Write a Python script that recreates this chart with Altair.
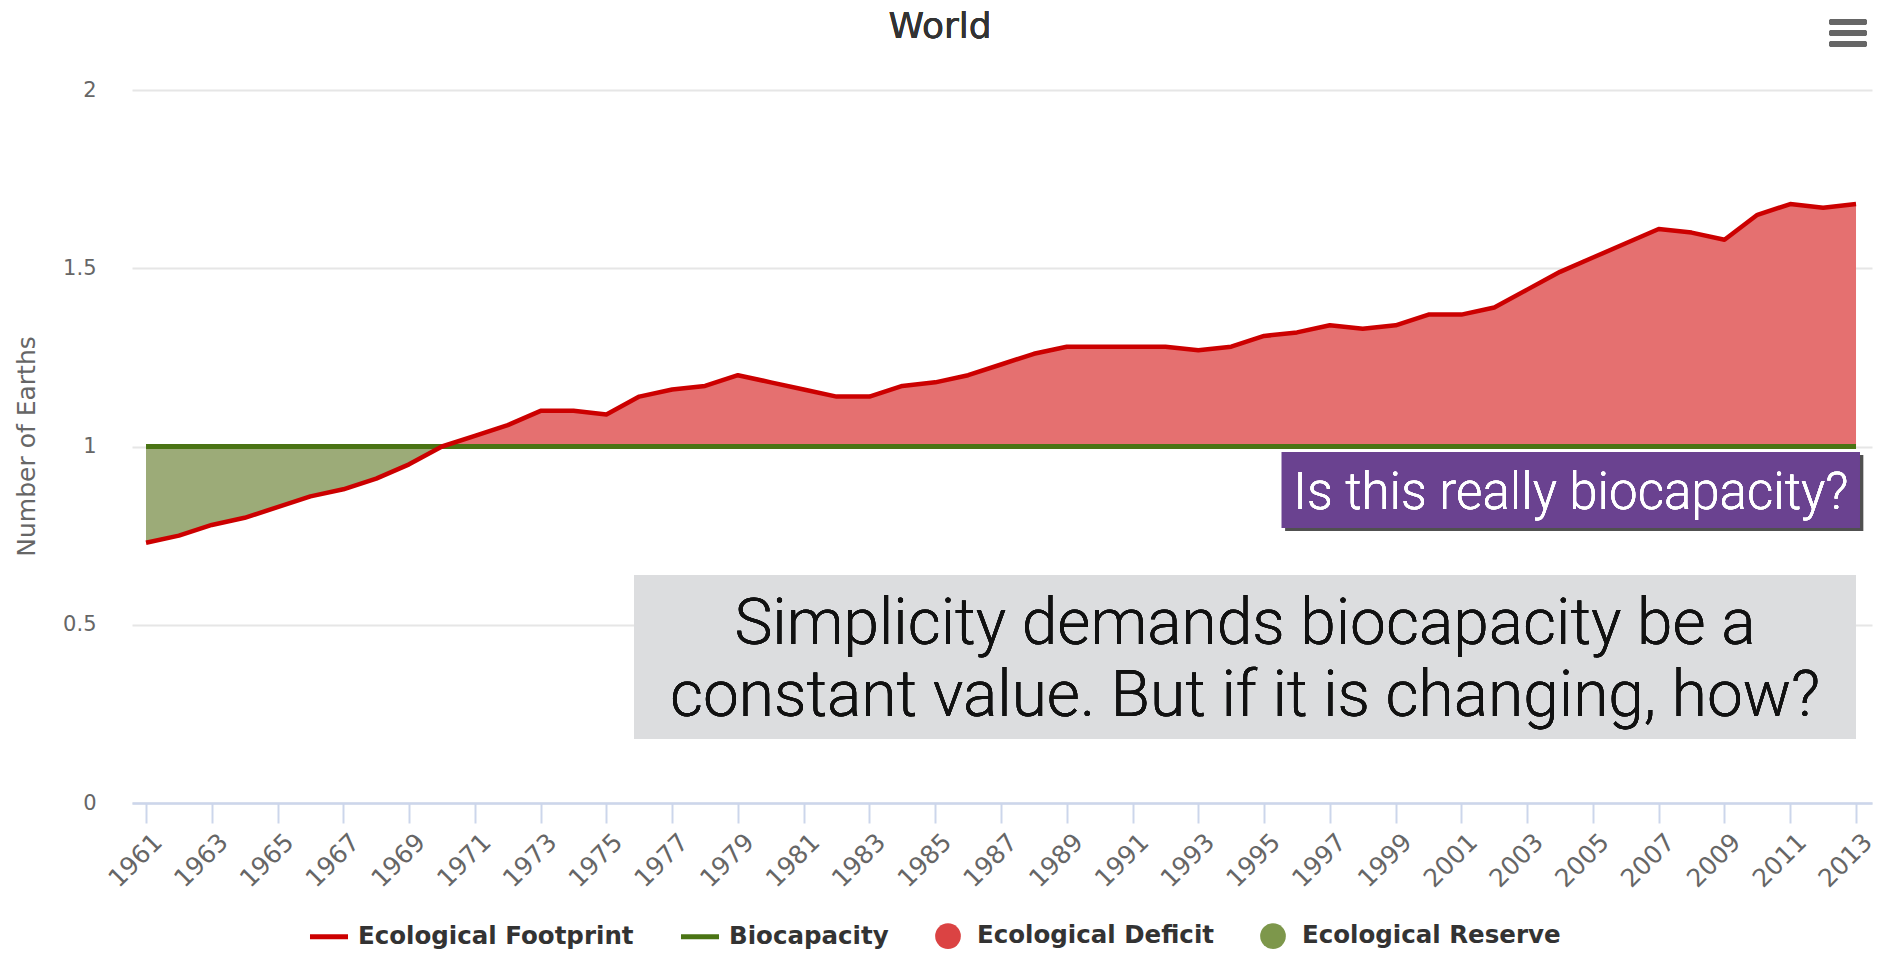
import altair as alt
import pandas as pd

years = list(range(1961, 2014))
footprint = [0.73, 0.75, 0.78, 0.80, 0.83, 0.86, 0.88, 0.91, 0.95, 1.00,
             1.03, 1.06, 1.10, 1.10, 1.09, 1.14, 1.16, 1.17, 1.20, 1.18,
             1.16, 1.14, 1.14, 1.17, 1.18, 1.20, 1.23, 1.26, 1.28, 1.28,
             1.28, 1.28, 1.27, 1.28, 1.31, 1.32, 1.34, 1.33, 1.34, 1.37,
             1.37, 1.39, 1.44, 1.49, 1.53, 1.57, 1.61, 1.60, 1.58, 1.65,
             1.68, 1.67, 1.68]
biocapacity = [1.0] * len(years)
tick_years = list(range(1961, 2014, 2))
y_ticks = [0, 0.5, 1, 1.5, 2]
series_names = ["Ecological Footprint", "Biocapacity", "Ecological Deficit", "Ecological Reserve"]
series_colors = ["#CC0000", "#4A7414", "#DB4343", "#7D974B"]

df = pd.DataFrame({"year": years, "fp": footprint, "bio": biocapacity})
df["top"] = df[["fp", "bio"]].max(axis=1)
df["bottom"] = df[["fp", "bio"]].min(axis=1)

xs = alt.Scale(domain=[1960.574, 2013.486], nice=False, zero=False)
ys = alt.Scale(domain=[0, 2], nice=False, zero=True)

x_axis = alt.Axis(values=tick_years, format="d", labelAngle=-45, title=None,
                  grid=False, domainColor="#ccd6eb", domainWidth=2.5,
                  tickColor="#ccd6eb", tickWidth=2, tickSize=20,
                  labelFont="DejaVu Sans", labelFontSize=25, labelColor="#666666",
                  labelPadding=6, labelOffset=3, labelOverlap=False, labelFlush=False)
y_axis = alt.Axis(values=y_ticks, format="~g", title="Number of Earths", domain=False, ticks=False,
                  gridColor="#e6e6e6", gridWidth=2,
                  labelFont="DejaVu Sans", labelFontSize=21, labelColor="#666666",
                  labelPadding=36,
                  titleFont="DejaVu Sans", titleFontSize=25, titleColor="#666666",
                  titleFontWeight="normal", titleX=-106, titleY=356, titleAngle=-90,
                  titleAlign="center", titleBaseline="middle")

base = alt.Chart(df)

deficit = base.mark_area(color="#E57070", opacity=1).encode(
    x=alt.X("year:Q", scale=xs, axis=x_axis),
    y=alt.Y("top:Q", scale=ys, axis=y_axis),
    y2="bio:Q",
)
reserve = base.mark_area(color="#9CAB78", opacity=1).encode(
    x="year:Q", y="bottom:Q", y2="bio:Q"
)
bio_line = base.mark_line(color="#4A7414", strokeWidth=4.8).encode(x="year:Q", y="bio:Q")
fp_line = base.mark_line(color="#CC0000", strokeWidth=4.5, strokeJoin="round").encode(x="year:Q", y="fp:Q")

legend_df = pd.DataFrame({"series": series_names})
line_path = "M-1.48,-0.19H1.48V0.19H-1.48Z"
legend_layer = alt.Chart(legend_df).mark_point(filled=True, clip=True, opacity=1).encode(
    x=alt.XDatum(1900),
    y=alt.YDatum(-5),
    color=alt.Color("series:N", scale=alt.Scale(domain=series_names, range=series_colors),
                    legend=alt.Legend(orient="none", legendX=184, legendY=833,
                                      direction="horizontal", title=None,
                                      labelFont="DejaVu Sans", labelFontWeight="bold",
                                      labelFontSize=24.5, labelColor="#333333", labelLimit=0,
                                      symbolSize=660, symbolOpacity=1, symbolStrokeWidth=0,
                                      columnPadding=46, labelOffset=16, padding=0)),
    shape=alt.Shape("series:N", scale=alt.Scale(domain=series_names,
                                                range=[line_path, line_path, "circle", "circle"])),
)

# annotations
shadow = alt.Chart(legend_df).mark_rect(color="#000000", opacity=0.25).encode(
    x=alt.XDatum(1995.64), x2=alt.X2Datum(2013.22),
    y=alt.YDatum(0.9762), y2=alt.Y2Datum(0.7630),
)
purple_box = alt.Chart(legend_df).mark_rect(color="#6A4290").encode(
    x=alt.XDatum(1995.54), x2=alt.X2Datum(2013.12),
    y=alt.YDatum(0.9846), y2=alt.Y2Datum(0.7714),
)
purple_text = alt.Chart(legend_df).mark_text(
    text="Is this really biocapacity?", font="Roboto", fontWeight=300, fontSize=51,
    color="white", align="center", baseline="alphabetic"
).encode(x=alt.XDatum(2004.33), y=alt.YDatum(0.8247))

gray_box = alt.Chart(legend_df).mark_rect(color="#DCDDDF").encode(
    x=alt.XDatum(1975.84), x2=alt.X2Datum(2013.0),
    y=alt.YDatum(0.6396), y2=alt.Y2Datum(0.1795),
)
gray_text = alt.Chart(legend_df).mark_text(
    text=["Simplicity demands biocapacity be a", "constant value. But if it is changing, how?"],
    font="Roboto", fontWeight=300, fontSize=64, lineHeight=72,
    color="#111111", align="center", baseline="alphabetic"
).encode(x=alt.XDatum(1994.42), y=alt.YDatum(0.446))

title = alt.Chart(legend_df).mark_text(
    text="World", font="DejaVu Sans", fontWeight="normal", fontSize=36, color="#333333",
    align="center", baseline="alphabetic"
).encode(x=alt.value(808), y=alt.value(-52))

menu_layers = [
    alt.Chart(legend_df).mark_rule(color="#666666", strokeWidth=6, strokeCap="round").encode(
        x=alt.value(1700), x2=alt.value(1732), y=alt.value(yv))
    for yv in (-68, -57, -46)
]

chart = alt.layer(
    deficit, reserve, bio_line, fp_line, legend_layer,
    shadow, purple_box, purple_text, gray_box, gray_text, title, *menu_layers
).properties(
    width=1740, height=713,
    padding={"left": 124, "top": 82, "right": 1, "bottom": 146},
    autosize=alt.AutoSizeParams(type="none"),
    background="white",
).configure_view(stroke=None)

chart.save("out.html", embed_options={"renderer": "svg", "actions": False})
